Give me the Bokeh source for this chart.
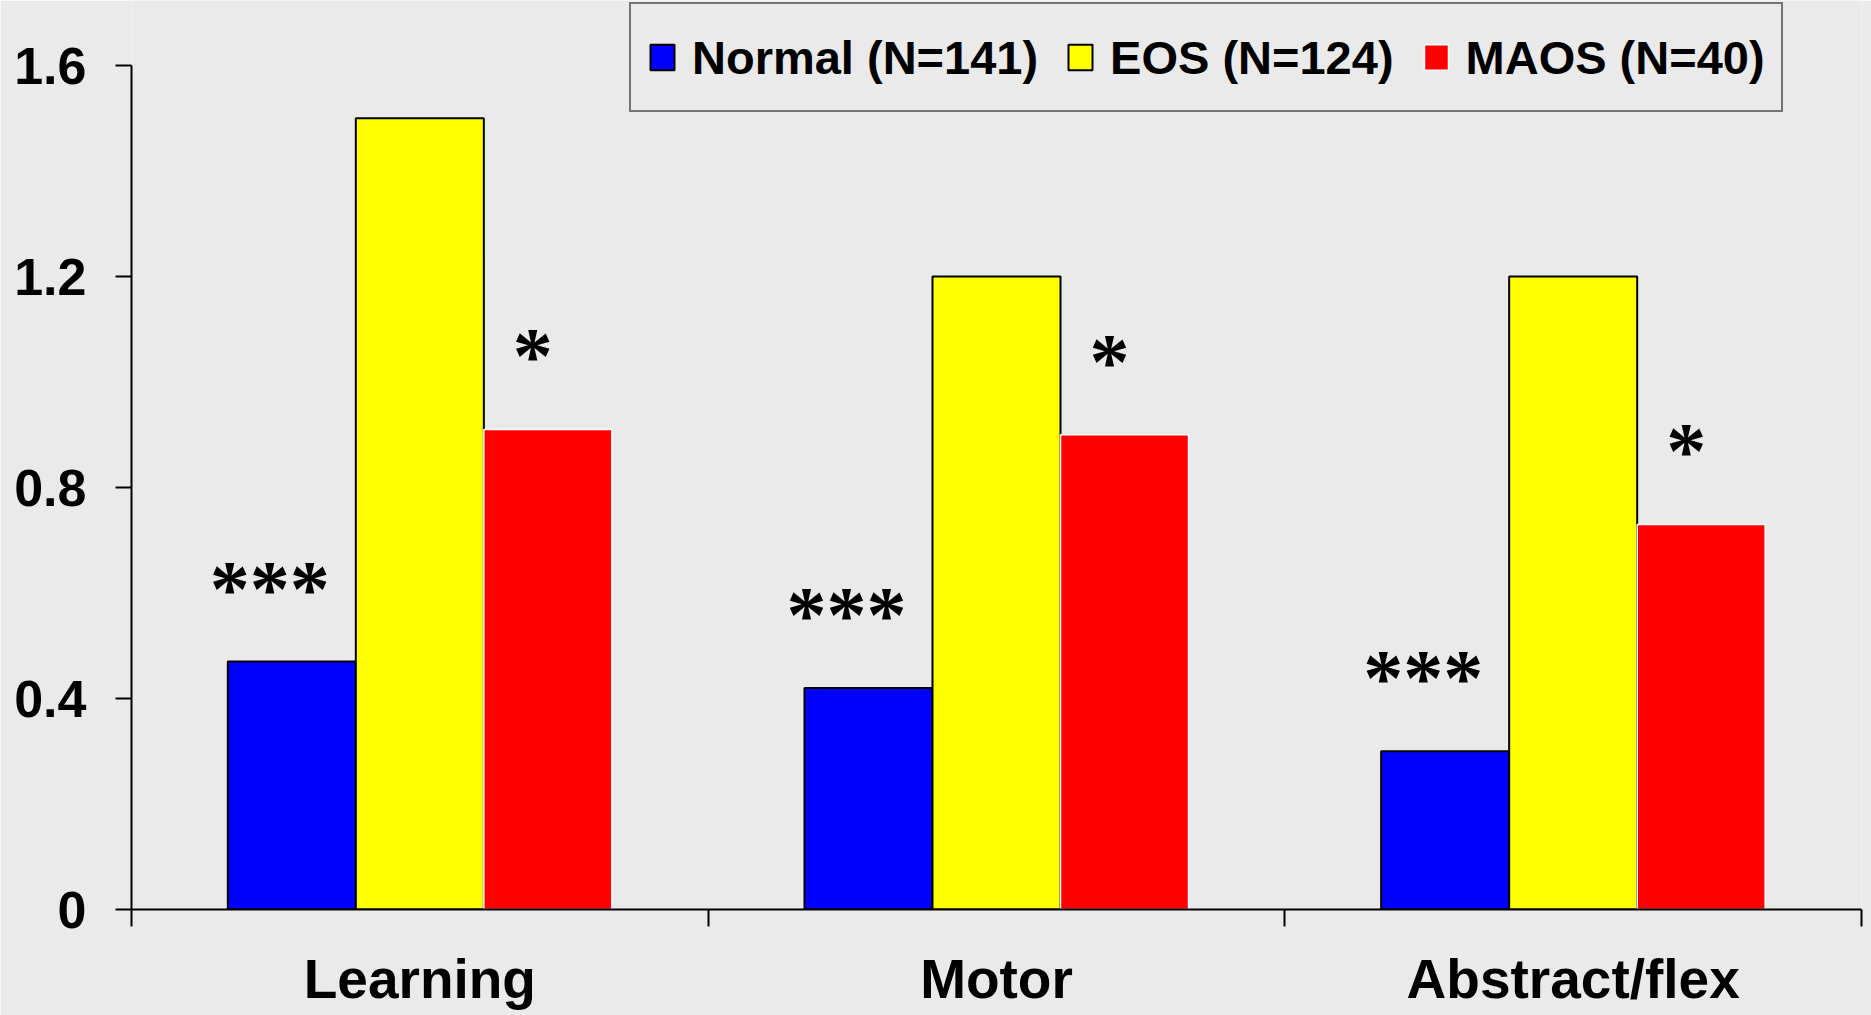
from bokeh.plotting import figure
from bokeh.models import (Range1d, LinearAxis, FixedTicker, Legend, LegendItem, ColumnDataSource)
from bokeh.transform import dodge
from bokeh.core.properties import value
from bokeh.embed import file_html
from bokeh.resources import INLINE

# ---- data ----
categories = ["Learning", "Motor", "Abstract/flex"]
series_labels = ["Normal (N=141)", "EOS (N=124)", "MAOS (N=40)"]
normal = [0.47, 0.42, 0.30]
eos = [1.50, 1.20, 1.20]
maos = [0.91, 0.90, 0.73]
normal_sig = ["***", "***", "***"]
maos_sig = ["*", "*", "*"]
y_ticks = [0, 0.4, 0.8, 1.2, 1.6]

# ---- style ----
bg = "#eaeaea"
fill_colors = ["#0000FF", "#FFFF00", "#FF0000"]
line_colors = ["black", "black", "white"]
bar_w = 0.222
font = "Liberation Sans"

W, H = 1871, 1015
frame_bottom_px = 909        # frame bottom, px from top of figure
top_px = 65                  # where 1.6 sits
px_per_unit = (frame_bottom_px - top_px) / 1.6
y_end = frame_bottom_px / px_per_unit

n = len(categories)
centers = [i + 0.5 for i in range(n)]
src = ColumnDataSource(dict(pos=centers, normal=normal, eos=eos, maos=maos,
                            nsig=normal_sig, msig=maos_sig))

p = figure(x_range=Range1d(0, n), y_range=Range1d(0, y_end),
           width=W, height=H, output_backend="svg", toolbar_location=None,
           x_axis_location=None,
           min_border_left=131, min_border_right=10, min_border_top=0,
           min_border_bottom=H - frame_bottom_px)
p.background_fill_color = bg
p.border_fill_color = bg
p.outline_line_color = None
p.grid.visible = False

# y axis
ya = p.yaxis[0]
ya.ticker = FixedTicker(ticks=y_ticks)
ya.bounds = (0, 1.6)
ya.major_label_overrides = {0: "0"}
ya.major_tick_out = 16
ya.major_tick_in = 0
ya.minor_tick_line_color = None
ya.axis_line_width = 2
ya.major_tick_line_width = 2
ya.major_label_text_font = font
ya.major_label_text_font_style = "bold"
ya.major_label_text_font_size = "52px"
ya.major_label_text_color = "black"
ya.major_label_standoff = 29

# x tick axis (category boundaries)
bounds_ticks = list(range(n + 1))
tick_axis = LinearAxis(ticker=FixedTicker(ticks=bounds_ticks),
                       major_tick_out=17, major_tick_in=0, minor_tick_line_color=None,
                       axis_line_width=2, major_tick_line_width=2,
                       major_label_overrides={t: "" for t in bounds_ticks},
                       major_label_text_font_size="1px", major_label_standoff=0)
p.add_layout(tick_axis, "below")

# category label axis
cat_axis = LinearAxis(ticker=FixedTicker(ticks=centers),
                      major_label_overrides={c: lab for c, lab in zip(centers, categories)},
                      axis_line_color=None, major_tick_line_color=None,
                      minor_tick_line_color=None,
                      major_label_text_font=font, major_label_text_font_style="bold",
                      major_label_text_font_size="55px", major_label_text_color="black",
                      major_label_standoff=15)
p.add_layout(cat_axis, "below")

# bars
renderers = []
for col, off, fc, lc in zip(["normal", "eos", "maos"], [-bar_w, 0, bar_w],
                            fill_colors, line_colors):
    r = p.vbar(x=dodge("pos", off), top=col, width=bar_w,
               source=src, fill_color=fc, line_color=lc,
               line_width=2 if lc == "black" else 1.5)
    renderers.append(r)

# significance marks
for col, sig, off, xo in [("normal", "nsig", -bar_w, -22), ("maos", "msig", bar_w, -15)]:
    p.text(x=dodge("pos", off), y=col, text=sig, source=src,
           text_font=value("Liberation Serif"), text_font_style="bold",
           text_font_size="80px",
           text_align="center", text_baseline="alphabetic",
           x_offset=xo, y_offset=-73, text_color="black")

legend = Legend(items=[LegendItem(label=lab, renderers=[r])
                       for lab, r in zip(series_labels, renderers)],
                orientation="horizontal", location=(498, frame_bottom_px - 112),
                margin=0, padding=16, spacing=27, label_standoff=15,
                glyph_width=30, glyph_height=32, label_height=74,
                label_text_font=font, label_text_font_style="bold",
                label_text_font_size="47px", label_text_color="black",
                border_line_color="black", border_line_width=2,
                background_fill_alpha=0)
p.add_layout(legend)

open("out.html", "w").write(file_html(p, INLINE))
